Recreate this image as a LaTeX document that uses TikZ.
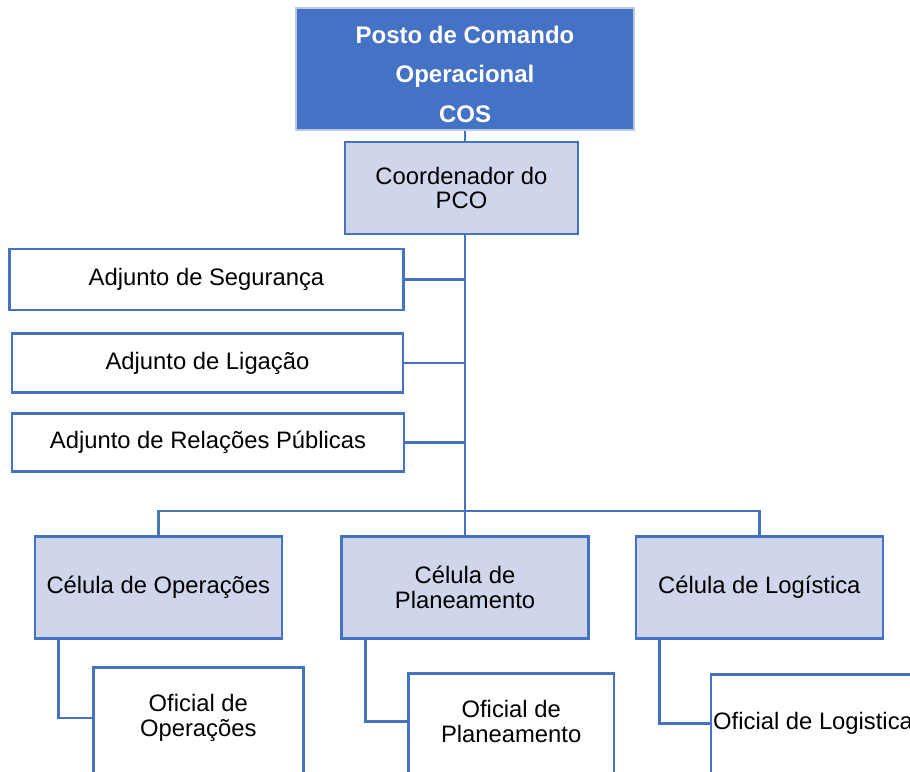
\documentclass[tikz,border=0pt]{standalone}
\usepackage{fontspec}
\setmainfont{Liberation Sans}
\definecolor{cblue}{HTML}{4472C4}
\definecolor{clight}{HTML}{CFD5EA}
\definecolor{ctopborder}{HTML}{BCC8E8}
\definecolor{csteel}{HTML}{4A7BA8}
\tikzset{
  topbox/.style={draw=ctopborder, fill=cblue, line width=2.5pt, inner sep=0pt},
  toptext/.style={text=white, align=center, inner sep=0pt,
    font=\fontsize{24}{39.5}\selectfont\bfseries},
  cellbox/.style={draw=cblue, fill=clight, line width=2.5pt, align=center, inner sep=0pt,
    font=\fontsize{23.8}{24.5}\selectfont},
  plainbox/.style={draw=cblue, fill=white, line width=2.5pt, align=center, inner sep=0pt,
    font=\fontsize{23.8}{24.5}\selectfont},
  boxtext/.style={align=center, inner sep=0pt, font=\fontsize{23.8}{24.5}\selectfont},
  link/.style={draw=cblue, line width=2.5pt},
}
\begin{document}
\begin{tikzpicture}[x=1pt,y=-1pt]
\useasboundingbox (0,0) rectangle (910,771);
\clip (0,0) rectangle (910,771);
\fill[white] (0,0) rectangle (910,771);

% top
\node[topbox, minimum width=338, minimum height=122] (top) at (465,69) {};
\node[toptext] (topT) at (465,74) {Posto de Comando\\Operacional\\COS};
\node[cellbox, minimum width=233, minimum height=92] (coord) at (461.5,188)
  {Coordenador do\\PCO};

% adjuntos
\node[plainbox, minimum width=394, minimum height=61] (adjseg) at (206.5,279.7) {Adjunto de Segurança};
\node[plainbox, minimum width=391, minimum height=59] (adjlig) at (207.5,363) {Adjunto de Ligação};
\node[plainbox, minimum width=392, minimum height=58] (adjrel) at (208,442.5) {Adjunto de Relações Públicas};

% cells
\node[cellbox, minimum width=247, minimum height=102] (cops) at (158.3,587.5) {Célula de Operações};
\node[cellbox, minimum width=247, minimum height=102] (cplan) at (465,587.5) {Célula de\\Planeamento};
\node[cellbox, minimum width=247, minimum height=102] (clog) at (759.3,587.5) {Célula de Logística};

% officers (boxes run past the lower edge)
\node[plainbox, anchor=north, minimum width=210, minimum height=160] (offops) at (198.3,666) {};
\node[boxtext] (offopsT) at (198.3,718) {Oficial de\\Operações};
\node[plainbox, anchor=north, minimum width=205.7, minimum height=160] (offplan) at (511.2,672.3) {};
\node[boxtext] (offplanT) at (511.2,721.5) {Oficial de\\Planeamento};
\node[plainbox, anchor=north, minimum width=260, minimum height=160] (offlog) at (841,673.3) {};
\node[boxtext, anchor=west] (offlogT) at (713,723.5) {Oficial de Logistica};

\coordinate (trunk) at (465,511);

% connectors
\draw[link] (top.south) -- (top.south |- coord.north);
\draw[link] (trunk |- coord.south) -- (trunk);
\draw[link] (adjseg.east) -- (adjseg.east -| trunk);
\draw[link] (adjlig.east) -- (adjlig.east -| trunk);
\draw[link] (adjrel.east) -- (adjrel.east -| trunk);
\draw[link] (trunk) -- (cplan.north);
\draw[link, draw=csteel] (cops.north) |- (trunk);
\draw[link] (trunk) -| (clog.north);

\draw[link] ([xshift=25pt]cops.south west) |- (offops.west |- offopsT);
\draw[link] ([xshift=25pt]cplan.south west) |- (offplan.west |- offplanT);
\draw[link] ([xshift=24.7pt]clog.south west) |- (offlog.west |- offlogT);
\end{tikzpicture}
\end{document}
